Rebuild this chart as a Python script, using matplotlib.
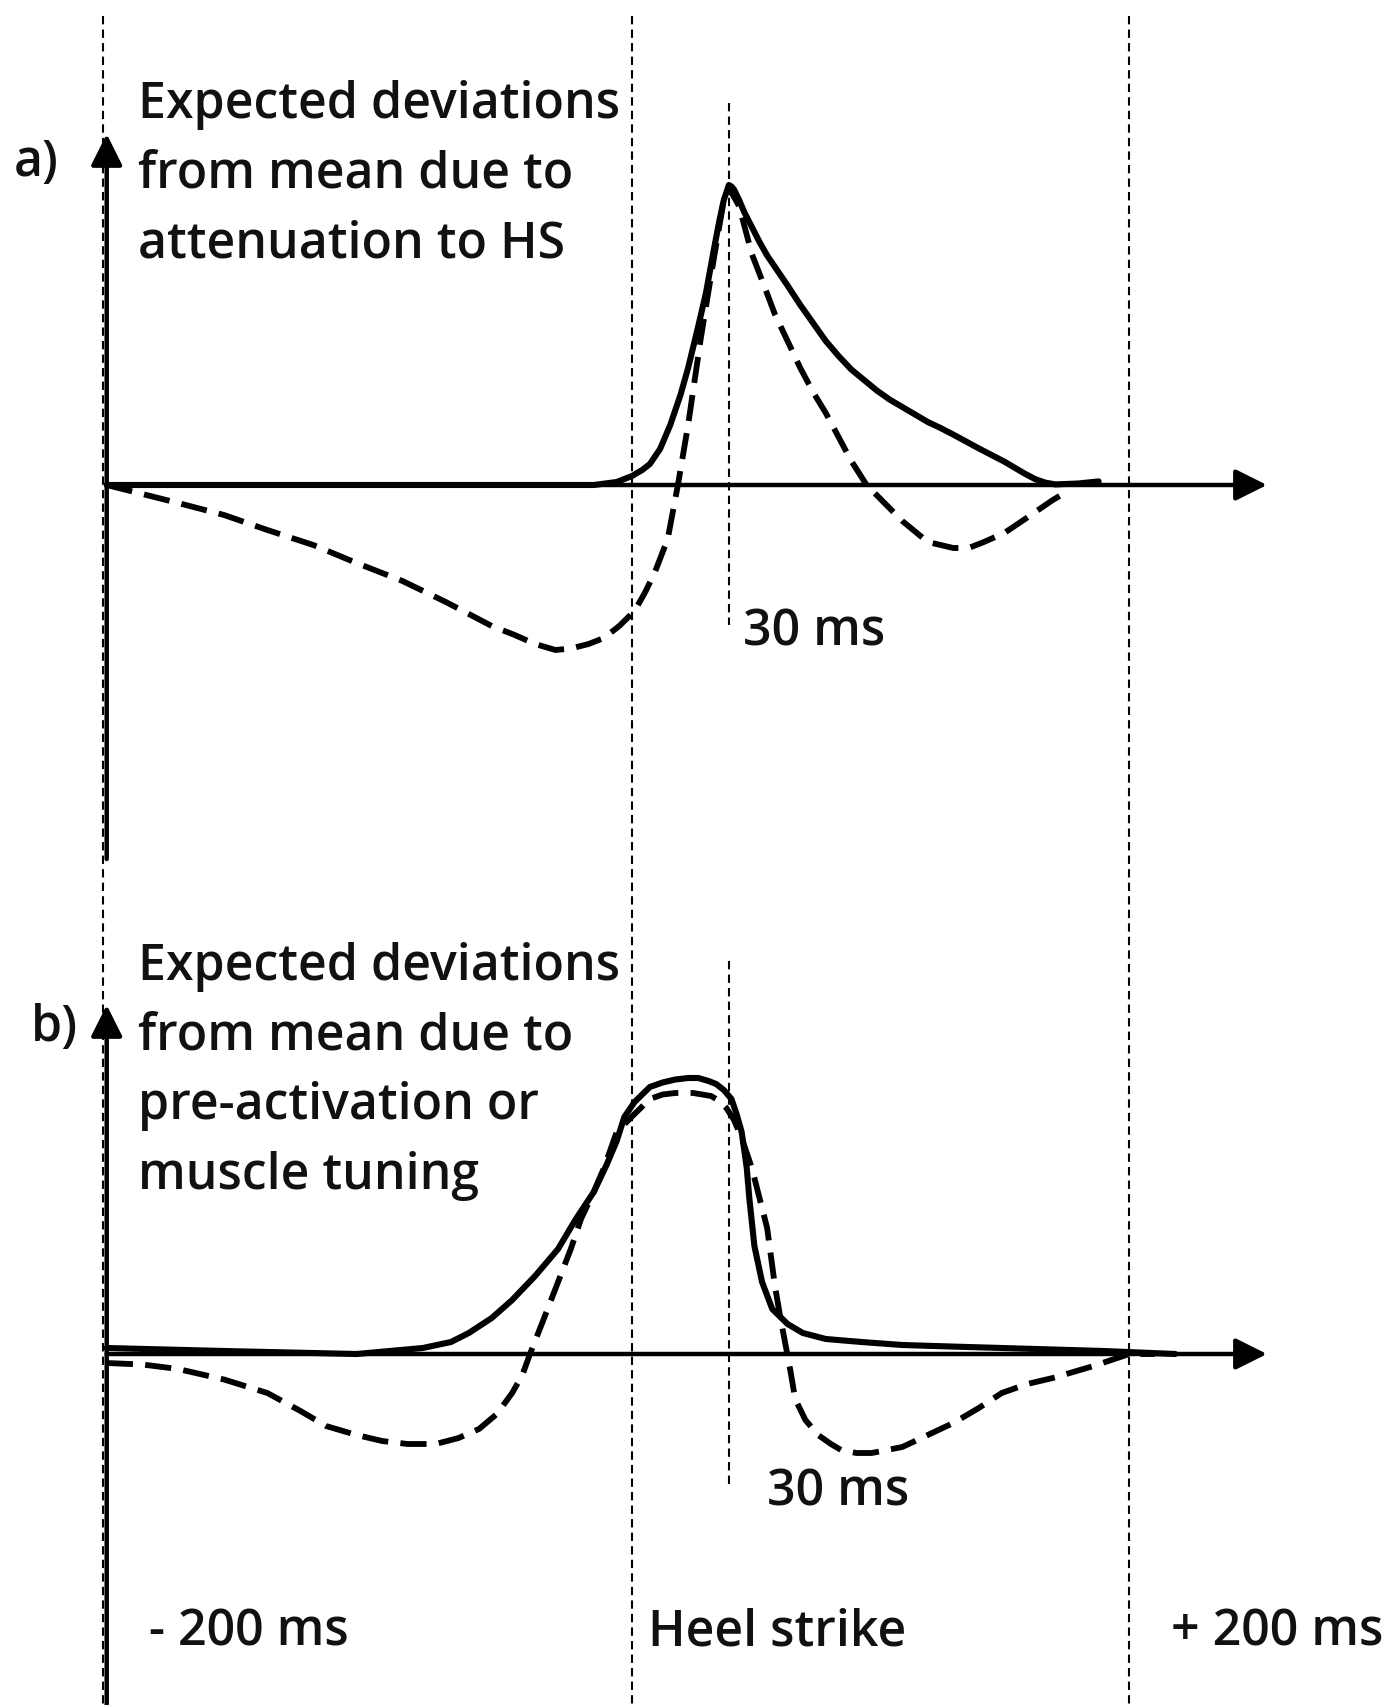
import matplotlib.pyplot as plt

plt.rcParams['font.family'] = ['Open Sans', 'DejaVu Sans']

W, H = 1390, 1705
PX_PER_MS = 2.55
PX_PER_UNIT = 300

# schematic time axis in ms, heel strike at 0
t_start, t_heel, t_mark, t_end, t_arrow = -206, 0, 38, 195, 249

# a) attenuation to heel strike
a_solid_t = [-206, -100, -15, -6, 0, 4, 7, 11, 15, 19, 22, 26, 29, 32, 34, 36, 38, 39, 40, 42, 44, 47,
             50, 53, 57, 61, 66, 71, 76, 81, 86, 91, 96, 101, 106, 111, 116, 121, 126, 131, 136, 141,
             146, 150, 154, 158, 162, 166, 175, 183]
a_solid_y = [0.0, 0.0, 0.0, 0.01, 0.03, 0.05, 0.07, 0.12, 0.2, 0.3, 0.39, 0.53, 0.64, 0.78, 0.87, 0.95,
             1.0, 0.995, 0.985, 0.95, 0.91, 0.86, 0.81, 0.765, 0.715, 0.665, 0.6, 0.54, 0.48, 0.43,
             0.385, 0.35, 0.315, 0.285, 0.26, 0.235, 0.21, 0.19, 0.168, 0.145, 0.122, 0.1, 0.078,
             0.058, 0.038, 0.02, 0.008, 0.002, 0.005, 0.012]
a_dash_t = [-206, -192, -178, -160, -143, -125, -108, -90, -73, -64, -55, -46, -38, -30, -24, -17, -11,
            -5, 1, 5, 9, 14, 18, 22, 27, 32, 36, 38, 42, 47, 52, 56, 61, 66, 71, 76, 81, 86, 92, 99,
            106, 116, 126, 132, 138, 146, 153, 159, 165, 171]
a_dash_y = [0.0, -0.03, -0.06, -0.1, -0.15, -0.2, -0.26, -0.32, -0.39, -0.43, -0.47, -0.5, -0.53, -0.55,
            -0.545, -0.53, -0.51, -0.47, -0.42, -0.36, -0.29, -0.18, 0.0, 0.2, 0.49, 0.75, 0.95, 0.99,
            0.93, 0.77, 0.66, 0.57, 0.48, 0.39, 0.31, 0.24, 0.16, 0.08, 0.0, -0.06, -0.12, -0.19, -0.21,
            -0.21, -0.19, -0.16, -0.12, -0.085, -0.05, -0.02]

# b) pre-activation or muscle tuning
b_solid_t = [-206, -160, -108, -82, -71, -64, -55, -47, -38, -29, -22, -15, -10, -6, -3, 1, 7, 12,
             17, 22, 26, 30, 33, 36, 39, 41, 43, 44, 45, 46, 48, 51, 55, 61, 67, 76, 90, 106, 125,
             145, 165, 185, 213]
b_solid_y = [0.02, 0.01, 0.0, 0.02, 0.04, 0.07, 0.12, 0.18, 0.26, 0.35, 0.45, 0.54, 0.63, 0.71, 0.79,
             0.84, 0.89, 0.905, 0.915, 0.92, 0.92, 0.91, 0.9, 0.88, 0.85, 0.8, 0.74, 0.68, 0.62, 0.52,
             0.36, 0.24, 0.15, 0.1, 0.07, 0.05, 0.04, 0.03, 0.025, 0.02, 0.015, 0.01, 0.0]
b_dash_t = [-206, -192, -178, -160, -143, -130, -120, -108, -98, -88, -77, -68, -60, -53, -47, -43,
            -40, -34, -29, -24, -20, -15, -11, -6, 1, 7, 12, 17, 24, 31, 34, 37, 40, 43, 47, 50, 53,
            56, 58, 60, 62, 64, 68, 73, 78, 82, 88, 94, 100, 106, 116, 126, 136, 145, 155, 165, 173,
            181, 188, 195, 205]
b_dash_y = [-0.03, -0.035, -0.05, -0.085, -0.13, -0.19, -0.24, -0.27, -0.29, -0.3, -0.3, -0.28, -0.25,
            -0.2, -0.13, -0.07, 0.0, 0.13, 0.24, 0.35, 0.45, 0.54, 0.62, 0.74, 0.8, 0.85, 0.865, 0.87,
            0.87, 0.86, 0.845, 0.82, 0.78, 0.72, 0.62, 0.52, 0.42, 0.23, 0.13, 0.04, -0.05, -0.15,
            -0.22, -0.27, -0.3, -0.32, -0.33, -0.33, -0.32, -0.31, -0.27, -0.23, -0.18, -0.13, -0.1,
            -0.08, -0.06, -0.04, -0.02, 0.0, 0.0]

a_title = ["Expected deviations", "from mean due to", "attenuation to HS"]
b_title = ["Expected deviations", "from mean due to", "pre-activation or", "muscle tuning"]
mark_label = "30 ms"
bottom_labels = ["- 200 ms", "Heel strike", "+ 200 ms"]

fig = plt.figure(figsize=(W / 100, H / 100), dpi=100)
xlim = (-632 / PX_PER_MS, (W - 632) / PX_PER_MS)


def ms(px):
    return (px - 632) / PX_PER_MS


# full-height guides at the window edges and heel strike
bg = fig.add_axes([0, 0, 1, 1])
bg.set_xlim(*xlim)
bg.set_ylim(H, 0)
bg.axis('off')
guide = dict(color='black', lw=1.5, linestyle=(0, (4, 2.5)))
for t in (t_start - 1.5, t_heel, t_end):
    bg.plot([t, t], [16, H], **guide)


def panel(top, bottom, base):
    ax = fig.add_axes([0, 1 - bottom / H, 1, (bottom - top) / H])
    ax.set_xlim(*xlim)
    ax.set_ylim(-(bottom - base) / PX_PER_UNIT, (base - top) / PX_PER_UNIT)
    ax.axis('off')
    ax.patch.set_alpha(0)
    return ax


def amp(row, base):
    return (base - row) / PX_PER_UNIT


arrow = dict(arrowstyle='-|>', color='black', lw=3.2, mutation_scale=48, shrinkA=0, shrinkB=0)
txt = dict(fontsize=36, fontweight='semibold', color='#111111')

panels = [
    (0, 900, 485, 859, 134, 103, 625, a_solid_t, a_solid_y, a_dash_t, a_dash_y,
     "a)", 36, 163, a_title, [118, 188, 257], 743, 646),
    (860, H, 1354, H + 5, 1005, 961, 1486, b_solid_t, b_solid_y, b_dash_t, b_dash_y,
     "b)", 54, 1028, b_title, [980, 1049, 1119, 1189], 767, 1506),
]

for (top, bottom, base, ax_bot, ax_tip, m0, m1, st, sy, dt, dy,
     tag, tag_x, tag_y, title, title_rows, mk_x, mk_row) in panels:
    ax = panel(top, bottom, base)
    # axes with arrow heads
    ax.annotate('', xy=(t_arrow, 0), xytext=(t_start, 0), arrowprops=arrow)
    ax.annotate('', xy=(t_start, amp(ax_tip, base)), xytext=(t_start, amp(ax_bot, base)),
                arrowprops=arrow)
    # 30 ms marker after heel strike
    ax.plot([t_mark, t_mark], [amp(m0, base), amp(m1, base)], **guide)
    ax.plot(st, sy, color='black', lw=4.4, solid_joinstyle='round', solid_capstyle='round')
    ax.plot(dt, dy, color='black', lw=4.2, linestyle=(0, (4.5, 2.1)))

    ax.text(ms(tag_x), amp(tag_y, base), tag, ha='center', va='center', **txt)
    for line, row in zip(title, title_rows):
        ax.text(ms(138), amp(row, base), line, ha='left', va='baseline', **txt)
    ax.text(ms(mk_x), amp(mk_row, base), mark_label, ha='left', va='baseline', **txt)

for label, x0 in zip(bottom_labels, (149, 648, 1171)):
    bg.text(ms(x0), 1646, label, ha='left', va='baseline', **txt)

fig.savefig('out.png', dpi=100, facecolor='white')
